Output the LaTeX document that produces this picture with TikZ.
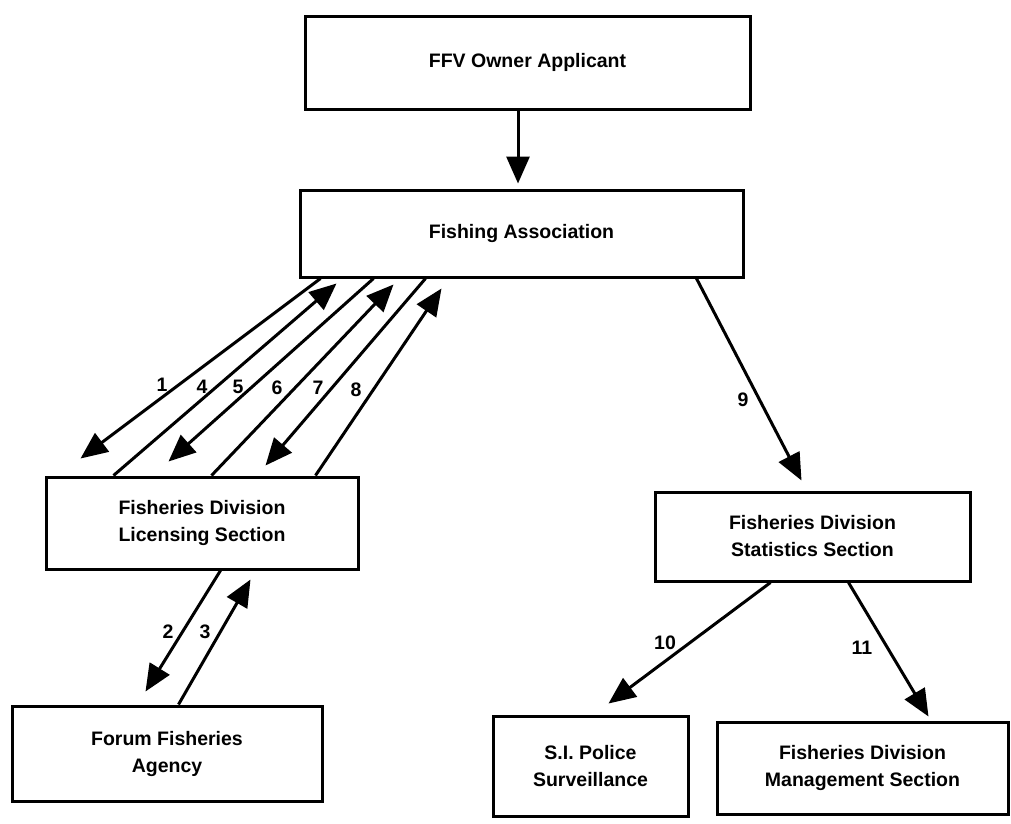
\documentclass[tikz,border=0pt]{standalone}
\usepackage{fontspec}
\setmainfont{Liberation Sans}
\usetikzlibrary{arrows.meta}
\begin{document}
\begin{tikzpicture}[x=1pt,y=-1pt,
  box/.style={draw=black,line width=3pt,fill=white,rectangle,align=center,
    font=\fontsize{19.5}{27}\selectfont\bfseries,inner sep=0pt},
  arr/.style={line width=3pt,-{Triangle[length=27pt,width=23pt]}},
  num/.style={font=\fontsize{19.5}{22}\selectfont\bfseries,inner sep=1pt}]
\useasboundingbox[fill=white] (0,0) rectangle (1011,823);
% boxes
\node[box,minimum width=445pt,minimum height=93pt] (ffv) at (527.5,62.5) {FFV Owner Applicant};
\node[box,minimum width=443pt,minimum height=87pt] (fa) at (521.5,233.5) {Fishing Association};
\node[box,minimum width=312pt,minimum height=92pt] (lic) at (202,523) {Fisheries Division\\Licensing Section};
\node[box,minimum width=310pt,minimum height=95pt] (ffa) at (167,753.5) {Forum Fisheries\\Agency};
\node[box,minimum width=315pt,minimum height=89pt] (stat) at (812.5,536.5) {Fisheries Division\\Statistics Section};
\node[box,minimum width=195pt,minimum height=100pt] (pol) at (590.5,766) {S.I. Police\\Surveillance};
\node[box,minimum width=291pt,minimum height=92pt] (mgmt) at (862.5,768) {Fisheries Division\\Management Section};
% connectors
\draw[arr] ([xshift=-9.5pt]ffv.south) -- ([xshift=-3.5pt,yshift=5pt]fa.north);
\draw[arr] ([xshift=22pt]fa.south west) -- ([xshift=36pt,yshift=17pt]lic.north west);
\draw[arr] ([xshift=69pt]lic.north west) -- ([xshift=38pt,yshift=-5pt]fa.south west);
\draw[arr] ([xshift=75pt]fa.south west) -- ([xshift=124pt,yshift=14pt]lic.north west);
\draw[arr] ([xshift=167pt]lic.north west) -- ([xshift=95pt,yshift=-6pt]fa.south west);
\draw[arr] ([xshift=127pt]fa.south west) -- ([xshift=221pt,yshift=10pt]lic.north west);
\draw[arr] ([xshift=271pt]lic.north west) -- ([xshift=143pt,yshift=-10pt]fa.south west);
\draw[arr] ([xshift=176pt]lic.south west) -- ([xshift=135pt,yshift=13pt]ffa.north west);
\draw[arr] ([xshift=168pt]ffa.north west) -- ([xshift=206pt,yshift=-9pt]lic.south west);
\draw[arr] ([xshift=-48pt]fa.south east) -- ([xshift=148pt,yshift=10pt]stat.north west);
\draw[arr] ([xshift=117pt]stat.south west) -- ([xshift=117pt,yshift=11pt]pol.north west);
\draw[arr] ([xshift=195pt]stat.south west) -- ([xshift=213pt,yshift=4pt]mgmt.north west);
% labels
\node[num] (l1) at (162,385) {1};
\node[num] (l4) at (202,387) {4};
\node[num] (l5) at (238,387) {5};
\node[num] (l6) at (277,388) {6};
\node[num] (l7) at (318,388) {7};
\node[num] (l8) at (356,390) {8};
\node[num] (l2) at (168,632) {2};
\node[num] (l3) at (205,632) {3};
\node[num] (l9) at (743,400) {9};
\node[num] (l10) at (665,643) {10};
\node[num] (l11) at (862,648) {11};
\end{tikzpicture}
\end{document}
